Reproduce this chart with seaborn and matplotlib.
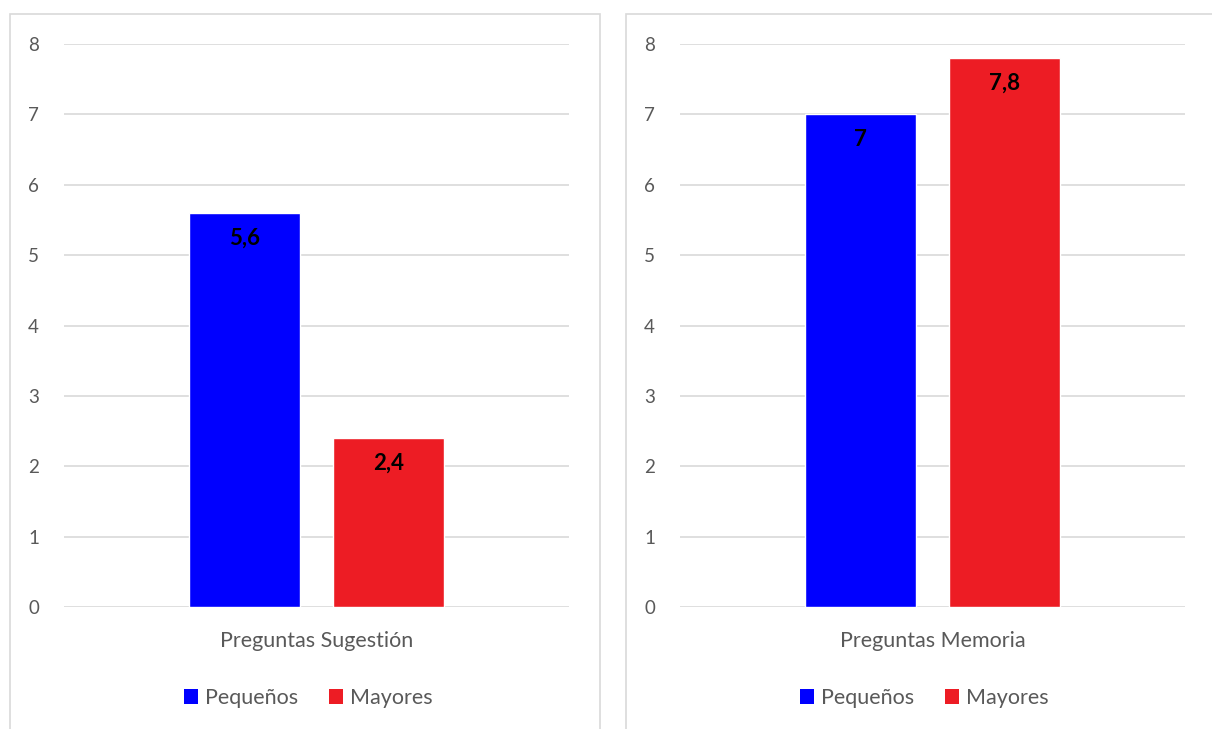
import numpy as np
import pandas as pd
import matplotlib
matplotlib.use("Agg")
import matplotlib.pyplot as plt
import seaborn as sns
from matplotlib.patches import Rectangle, Patch

# data
categories = ["Preguntas Sugestión", "Preguntas Memoria"]
groups = ["Pequeños", "Mayores"]
sugestion = [5.6, 2.4]
memoria = [7.0, 7.8]
labels_sugestion = ["5,6", "2,4"]
labels_memoria = ["7", "7,8"]

colors = {"Pequeños": "#0000FF", "Mayores": "#ED1C24"}
grid_col = "#D9D9D9"
text_col = "#595959"

sns.set_theme(style="white")
plt.rcParams["font.family"] = ["Lato", "DejaVu Sans"]

fig = plt.figure(figsize=(12.12, 7.29), dpi=100)
W, H = 1212, 729

# panel frames (two separate chart boxes)
for x0, x1 in [(10, 600), (626, 1230)]:
    fig.patches.append(Rectangle((x0 / W, -0.05), (x1 - x0) / W, (729 - 14) / H + 0.05,
                                 transform=fig.transFigure, fill=False,
                                 edgecolor="#D9D9D9", linewidth=1.2))

panels = [
    (categories[0], sugestion, labels_sugestion, 64),
    (categories[1], memoria, labels_memoria, 680),
]

for cat, vals, labs, xleft in panels:
    ax = fig.add_axes([xleft / W, (729 - 607) / H, 505 / W, 563 / H])
    df = pd.DataFrame({"cat": [cat] * len(groups), "grupo": groups, "valor": vals})
    sns.barplot(data=df, x="cat", y="valor", hue="grupo", hue_order=groups,
                palette=colors, width=0.57, gap=0.225, saturation=1,
                legend=False, ax=ax, zorder=3)
    ax.set_xlim(-0.5, 0.5)
    ax.set_ylim(0, 8)
    ax.set_yticks(range(0, 9))
    ax.yaxis.grid(True, color=grid_col, linewidth=1.2, zorder=0)
    ax.set_axisbelow(True)
    for s in ax.spines.values():
        s.set_visible(False)
    ax.tick_params(axis="y", length=0, pad=18, labelsize=13.5, labelcolor=text_col)
    ax.tick_params(axis="x", length=0, pad=17, labelsize=15.5, labelcolor=text_col)
    ax.set_xlabel("")
    ax.set_ylabel("")

    bars = [p for p in ax.patches]
    for p, lab in zip(bars, labs):
        ax.annotate(lab, (p.get_x() + p.get_width() / 2, p.get_height()),
                    xytext=(0, -18), textcoords="offset points",
                    ha="center", va="center", fontsize=16,
                    fontweight="bold", color="black")

    handles = [Patch(facecolor=colors[g], edgecolor="none") for g in groups]
    ax.legend(handles, groups, loc="center", bbox_to_anchor=(0.484, -0.162),
              ncol=2, frameon=False, fontsize=15.5, handlelength=0.65,
              handleheight=0.65, handletextpad=0.35, columnspacing=1.4,
              labelcolor=text_col)

fig.savefig("out.png", dpi=100)
